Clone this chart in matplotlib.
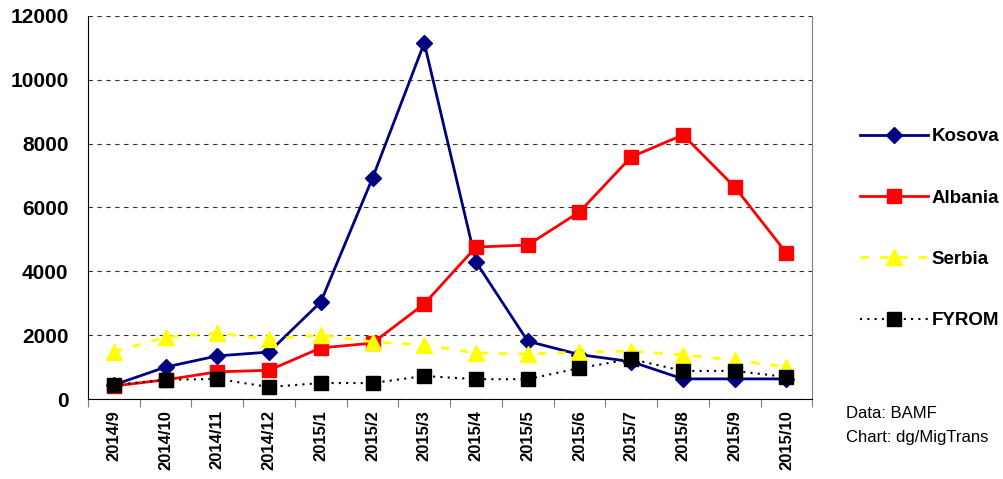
import matplotlib.pyplot as plt
import numpy as np

months = ["2014/9", "2014/10", "2014/11", "2014/12", "2015/1", "2015/2", "2015/3",
          "2015/4", "2015/5", "2015/6", "2015/7", "2015/8", "2015/9", "2015/10"]

kosova = [440, 1000, 1350, 1470, 3040, 6920, 11150, 4290, 1810, 1390, 1170, 630, 630, 630]
albania = [410, 600, 850, 900, 1600, 1750, 2980, 4760, 4820, 5860, 7580, 8270, 6640, 4570]
serbia = [1480, 1940, 2060, 1880, 2000, 1790, 1690, 1440, 1410, 1470, 1500, 1380, 1220, 1000]
fyrom = [440, 600, 630, 375, 500, 500, 720, 620, 620, 970, 1250, 880, 880, 690]

plt.rcParams['font.family'] = ['Liberation Sans', 'DejaVu Sans']

fig = plt.figure(figsize=(10.04, 4.79), dpi=100)
ax = fig.add_axes([0.0876, 0.167, 0.7215, 0.8])

x = np.arange(len(months))

ax.plot(x, kosova, color='#000080', lw=2, marker='D', ms=8, label='Kosova', zorder=3)
ax.plot(x, albania, color='#ff0000', lw=2, marker='s', ms=10, label='Albania', zorder=3)
ax.plot(x, serbia, color='#ffff00', lw=2, ls=(0, (3, 4)), marker='^', ms=12, label='Serbia', zorder=3)
ax.plot(x, fyrom, color='black', lw=1.5, ls=(0, (1, 2.5)), marker='s', ms=10, label='FYROM', zorder=4)

ax.set_xlim(-0.5, len(months) - 0.5)
ax.set_ylim(0, 12000)
ax.set_yticks(np.arange(0, 12001, 2000))
ax.tick_params(axis='y', length=0, labelsize=15, pad=14)
for lab in ax.get_yticklabels():
    lab.set_fontweight('bold')

# ticks on the category boundaries, labels centred
ax.set_xticks(np.arange(-0.5, len(months), 1.0))
ax.set_xticklabels([])
ax.set_xticks(x, minor=True)
ax.set_xticklabels(months, minor=True, rotation=90, fontsize=12, fontweight='bold')
ax.tick_params(axis='x', which='major', length=6, direction='out', color='gray')
ax.tick_params(axis='x', which='minor', length=0, pad=8)

ax.grid(axis='y', color='#333333', ls=(0, (4, 4)), lw=0.8)
ax.spines['top'].set_visible(False)
ax.spines['right'].set_color('gray')
ax.spines['left'].set_color('black')
ax.spines['bottom'].set_color('black')

leg = fig.legend(loc='upper left', bbox_to_anchor=(0.840, 0.768), frameon=False,
                 labelspacing=2.36, handlelength=3.6, handletextpad=0.2,
                 prop={'weight': 'bold', 'size': 13.5})

fig.text(0.843, 0.127, "Data: BAMF", fontsize=12)
fig.text(0.843, 0.078, "Chart: dg/MigTrans", fontsize=12)

fig.savefig("out.png", dpi=100)
